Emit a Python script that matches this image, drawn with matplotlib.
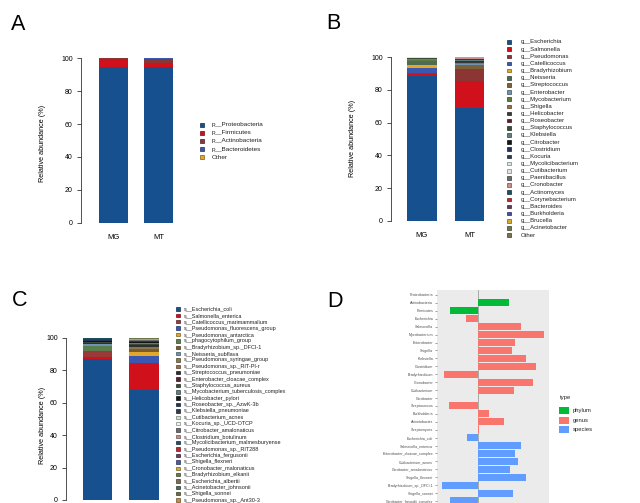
import numpy as np
import matplotlib
matplotlib.use("Agg")
import matplotlib.pyplot as plt
from matplotlib.patches import Rectangle
from matplotlib.colors import to_rgb

plt.rcParams['font.family'] = ['Liberation Sans', 'DejaVu Sans']

# ---------------- data ----------------
samples = ["MG", "MT"]

# Panel A (phylum)
phyla = ["p__Proteobacteria", "p__Firmicutes", "p__Actinobacteria", "p__Bacteroidetes", "Other"]
phyla_MG = [94.8, 5.0, 0.1, 0.05, 0.05]
phyla_MT = [94.6, 2.4, 2.8, 0.1, 0.1]
phyla_colors = ['#17508E', '#D0101A', '#8C3535', '#3B58B0', '#E3A82B']

# Panel B (genus)
genera = ["g__Escherichia", "g__Salmonella", "g__Pseudomonas", "g__Catellicoccus", "g__Bradyrhizobium",
          "g__Neisseria", "g__Streptococcus", "g__Enterobacter", "g__Mycobacterium", "g__Shigella",
          "g__Helicobacter", "g__Roseobacter", "g__Staphylococcus", "g__Klebsiella", "g__Citrobacter",
          "g__Clostridium", "g__Kocuria", "g__Mycolicibacterium", "g__Cutibacterium", "g__Paenibacillus",
          "g__Cronobacter", "g__Actinomyces", "g__Corynebacterium", "g__Bacteroides", "g__Burkholderia",
          "g__Brucella", "g__Acinetobacter", "Other"]
genera_MG = [88.4, 1.6, 0.2, 3.5, 1.3, 2.6, 0.2, 0.2, 0.6, 0.1, 0.3, 0.1, 0.2, 0.1, 0.1,
             0.1, 0.1, 0.1, 0.1, 0.0, 0.0, 0.0, 0.0, 0.0, 0.0, 0.0, 0.0, 0.1]
genera_MT = [68.7, 17.0, 7.0, 0.1, 0.1, 0.2, 2.3, 0.3, 0.2, 0.5, 1.0, 0.2, 0.3, 0.2, 0.2,
             0.3, 0.1, 0.1, 0.2, 0.2, 0.2, 0.1, 0.1, 0.1, 0.1, 0.1, 0.1, 0.0]
genera_colors = ['#17508E', '#D0101A', '#8C3535', '#3B58B0', '#E3A82B', '#4D6B52', '#7D6238',
                 '#6F93B0', '#5F7A3D', '#A26B47', '#3A3A3A', '#5C1E2E', '#3C4A38', '#5D7E80',
                 '#151515', '#27345A', '#2E3D4C', '#D9EBDB', '#E4E4E4', '#6B6B6B', '#C98F8F',
                 '#1F5060', '#C22630', '#6A3A5C', '#4B4E9E', '#D9A932', '#697A48', '#7A6F4F']

# Panel C (species)
species = ["s__Escherichia_coli", "s__Salmonella_enterica", "s__Catellicoccus_marimammalium",
           "s__Pseudomonas_fluorescens_group", "s__Pseudomonas_antarctica", "s__phagocytophilum_group",
           "s__Bradyrhizobium_sp._DFCI-1", "s__Neisseria_subflava", "s__Pseudomonas_syringae_group",
           "s__Pseudomonas_sp._RIT-PI-r", "s__Streptococcus_pneumoniae", "s__Enterobacter_cloacae_complex",
           "s__Staphylococcus_aureus", "s__Mycobacterium_tuberculosis_complex", "s__Helicobacter_pylori",
           "s__Roseobacter_sp._AzwK-3b", "s__Klebsiella_pneumoniae", "s__Cutibacterium_acnes",
           "s__Kocuria_sp._UCD-OTCP", "s__Citrobacter_amalonaticus", "s__Clostridium_botulinum",
           "s__Mycolicibacterium_malmesburyense", "s__Pseudomonas_sp._RIT288", "s__Escherichia_fergusonii",
           "s__Shigella_flexneri", "s__Cronobacter_malonaticus", "s__Bradyrhizobium_elkanii",
           "s__Escherichia_albertii", "s__Acinetobacter_johnsonii", "s__Shigella_sonnei",
           "s__Pseudomonas_sp._Ant30-3"]
species_MG = [86.6, 1.8, 3.2, 0.1, 0.1, 3.0, 0.1, 1.3, 0.1, 0.1, 0.5, 0.1, 0.2, 0.4, 0.3,
              0.9, 0.1, 0.3, 0.1, 0.1, 0.1, 0.4, 0.0, 0.0, 0.1, 0.0, 0.0, 0.0, 0.0, 0.0, 0.0]
species_MT = [68.0, 16.4, 0.1, 4.0, 2.4, 0.2, 2.0, 0.1, 0.4, 0.5, 1.4, 0.2, 0.3, 1.0, 0.2,
              0.6, 0.2, 0.1, 0.1, 0.2, 0.6, 0.1, 0.1, 0.1, 0.1, 0.1, 0.1, 0.1, 0.1, 0.1, 0.1]
species_colors = ['#17508E', '#D0101A', '#9A3A38', '#3B58B0', '#E3A82B', '#5B7E4E', '#7D5A2E',
                  '#6F93B0', '#8A7A4E', '#A26B47', '#2E2E2E', '#5C1E2E', '#3C4A38', '#5D7E80',
                  '#151515', '#27345A', '#2E3D4C', '#D2E6D4', '#F2F2F2', '#6B6B6B', '#C98F8F',
                  '#1F5060', '#C22630', '#6A3A5C', '#4B5A9E', '#D9A932', '#697A48', '#7A6F4F',
                  '#4A6A5A', '#6B6B48', '#C0903E']

# Panel D (differences)
d_labels = ["Proteobacteria", "Actinobacteria", "Firmicutes", "Escherichia", "Salmonella",
            "Mycobacterium", "Enterobacter", "Shigella", "Klebsiella", "Clostridium",
            "Bradyrhizobium", "Cronobacter", "Cutibacterium", "Citrobacter", "Streptococcus",
            "Burkholderia", "Acinetobacter", "Streptomyces", "Escherichia_coli",
            "Salmonella_enterica", "Enterobacter_cloacae_complex", "Cutibacterium_acnes",
            "Citrobacter_amalonaticus", "Shigella_flexneri", "Bradyrhizobium_sp._DFCI-1",
            "Shigella_sonnei", "Citrobacter_freundii_complex"]
d_values = [0.0, 3.1, -2.83, -1.17, 4.3, 6.57, 3.7, 3.37, 4.77, 5.77, -3.43, 5.47, 3.6, 0.0,
            -2.9, 1.1, 2.6, 0.1, -1.13, 4.33, 3.73, 4.0, 3.2, 4.83, -3.63, 3.53, -2.83]
d_types = ["phylum"] * 3 + ["genus"] * 15 + ["species"] * 9
type_names = ["phylum", "genus", "species"]
type_colors = {"phylum": "#00BA38", "genus": "#F8766D", "species": "#619CFF"}

# ---------------- figure ----------------
W, H = 640, 503
fig = plt.figure(figsize=(W / 100, H / 100), dpi=100)
fig.patch.set_facecolor('white')


def ax_px(l, t, r, b):
    return fig.add_axes([l / W, 1 - b / H, (r - l) / W, (b - t) / H])


def fx(x):
    return x / W


def fy(y):
    return 1 - y / H


def darker(c, f=0.6):
    r, g, b = to_rgb(c)
    return (r * f, g * f, b * f)


def stacked(ax, data_list, colors, width, xlim, ylab_x, ylab_y, show_x=True):
    x = np.arange(len(samples))
    data = np.array(data_list, dtype=float)  # shape (n_samples, n_taxa)
    bottoms = np.zeros(len(samples))
    for j in range(data.shape[1]):
        ax.bar(x, data[:, j], bottom=bottoms, width=width, color=colors[j], linewidth=0)
        bottoms = bottoms + data[:, j]
    ax.set_xlim(*xlim)
    ax.set_ylim(0, 100)
    ax.set_yticks([0, 20, 40, 60, 80, 100])
    ax.set_xticks(x)
    if show_x:
        ax.set_xticklabels(samples, fontsize=5.5)
    else:
        ax.set_xticklabels([])
    for s in ['top', 'right', 'bottom']:
        ax.spines[s].set_visible(False)
    ax.spines['left'].set_linewidth(0.6)
    ax.spines['left'].set_color('#333333')
    ax.tick_params(axis='y', length=3, width=0.6, color='#333333', labelsize=5, pad=3)
    ax.tick_params(axis='x', length=0, pad=8)
    fig.text(fx(ylab_x), fy(ylab_y), "Relative abundance (%)", rotation=90, fontsize=5.2,
             ha='center', va='center')


def draw_legend(names, colors, mx, tx, y0, dy, fs, ms=4.0):
    for i, (n, c) in enumerate(zip(names, colors)):
        yc = y0 + i * dy
        fig.add_artist(Rectangle((fx(mx - ms / 2), fy(yc + ms / 2)), ms / W, ms / H,
                                 transform=fig.transFigure, facecolor=c,
                                 edgecolor=darker(c, 0.55), linewidth=0.5))
        fig.text(fx(tx), fy(yc), n, fontsize=fs, ha='left', va='center', color='#222222')


# Panel A
axA = ax_px(81, 58.3, 190, 222.7)
stacked(axA, [phyla_MG, phyla_MT], phyla_colors, 0.64, (-0.722, 1.7), 43, 143)
draw_legend(phyla, phyla_colors, 202.3, 211.5, 124.5, 8.2, 4.6)

# Panel B
axB = ax_px(391, 57.3, 500, 220.7)
stacked(axB, [genera_MG, genera_MT], genera_colors, 0.62, (-0.653, 1.642), 352, 138)
draw_legend(genera, genera_colors, 509, 521, 42, 7.15, 4.3, ms=3.6)

# Panel C (sample labels fall below the visible area, as in the reference)
axC = ax_px(66, 337.7, 170, 500.0)
stacked(axC, [species_MG, species_MT], species_colors, 0.63, (-0.677, 1.559), 42, 425, show_x=False)
draw_legend(species, species_colors, 178, 183.5, 309, 6.37, 4.0, ms=3.4)

# Panel D
axD = ax_px(437, 290.2, 549, 505.8)
axD.set_facecolor('#EBEBEB')
ypos = np.arange(len(d_labels))
axD.axvline(0, color='#9AA39A', linewidth=0.6, zorder=1)
axD.barh(ypos, d_values, height=0.9, color=[type_colors[t] for t in d_types], linewidth=0, zorder=2)
axD.set_ylim(len(d_labels) - 0.4, -0.6)
axD.set_xlim(-4.1, 7.1)
axD.set_yticks(ypos)
axD.set_yticklabels(d_labels, fontsize=2.6, color='#4D4D4D')
axD.set_xticks([])
axD.tick_params(axis='y', length=1.5, width=0.4, color='#555555', pad=1.2)
for s in axD.spines.values():
    s.set_visible(False)

# Panel D legend
fig.text(fx(559.5), fy(398), "type", fontsize=4.2, ha='left', va='center', color='#222222')
for i, t in enumerate(type_names):
    yc = 410.5 + i * 9.7
    fig.add_artist(Rectangle((fx(559), fy(yc + 3.5)), 10 / W, 7 / H, transform=fig.transFigure,
                             facecolor=type_colors[t], edgecolor='none'))
    fig.text(fx(572.5), fy(yc), t, fontsize=4.2, ha='left', va='center', color='#222222')

# Panel letters
for letter, x, yb in [("A", 11, 30), ("B", 326.5, 29), ("C", 11.5, 306.5), ("D", 327, 307)]:
    fig.text(fx(x), fy(yb), letter, fontsize=15.5, ha='left', va='baseline', color='black')

fig.savefig("out.png", dpi=100, facecolor='white')
